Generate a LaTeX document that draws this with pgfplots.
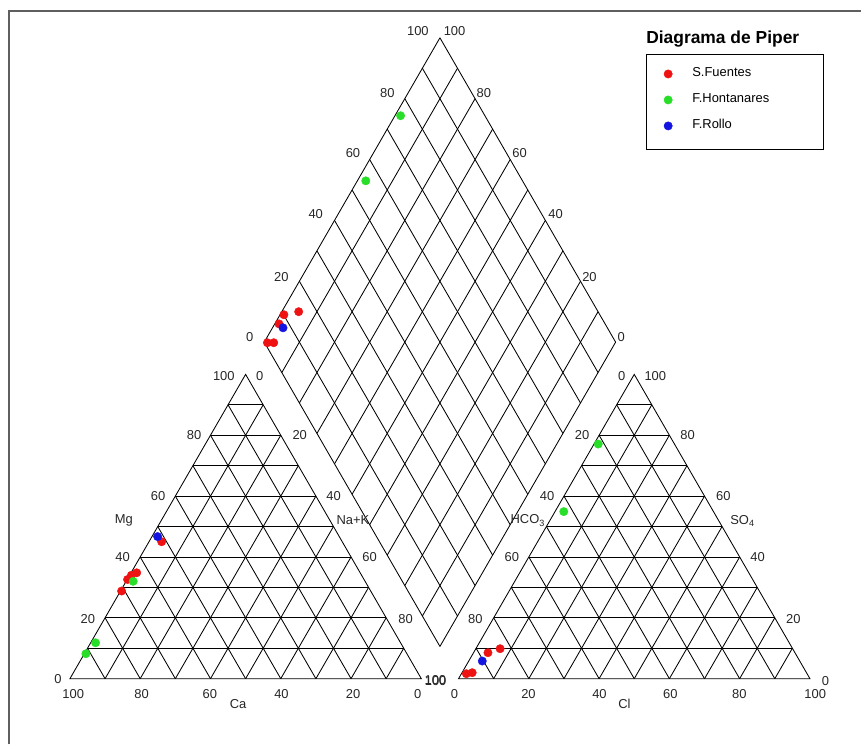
\documentclass[border=0pt]{standalone}
\usepackage{fontspec}
\setmainfont{Liberation Sans}
\usepackage{pgfplots}
\pgfplotsset{compat=1.18}
\usepackage{pgfplotstable}

\definecolor{ptred}{RGB}{238,18,18}
\definecolor{ptgreen}{RGB}{40,222,40}
\definecolor{ptblue}{RGB}{20,20,225}
\definecolor{framegray}{RGB}{95,95,95}

% Cation triangle: Mg and Na+K (% meq)
\pgfplotstableread{
Mg    NaK
45.0  3.6
34.8  1.6
34.0  0.5
32.6  0.1
28.8  0.3
}\fuentesCat
\pgfplotstableread{
Mg    NaK
32.0  2.0
11.8  1.4
8.2   0.45
}\hontanaresCat
\pgfplotstableread{
Mg    NaK
46.7  1.6
}\rolloCat

% Anion triangle: SO4 and Cl (% meq)
\pgfplotstableread{
SO4   Cl
9.85  6.9
8.53  4.1
1.97  2.9
1.64  1.4
}\fuentesAn
\pgfplotstableread{
SO4   Cl
77.1  1.2
54.9  2.5
}\hontanaresAn
\pgfplotstableread{
SO4   Cl
5.8   3.85
}\rolloAn

% Diamond: Na+K and Cl+SO4 (% meq)
\pgfplotstableread{
NaK   ClSO
4.8   14.8
1.1   10.1
1.2   7.2
1.0   0.8
2.8   2.6
}\fuentesDia
\pgfplotstableread{
NaK   ClSO
2.4   55.4
1.6   76.0
}\hontanaresDia
\pgfplotstableread{
NaK   ClSO
3.0   7.7
}\rolloDia

\begin{document}
\begin{tikzpicture}[
  lbl/.style={font=\fontsize{13}{15}\selectfont, inner sep=0pt, text=black!85},
  gridline/.style={black, line width=0.85bp},
]
\begin{axis}[
  x=3.517bp, y=3.517bp,
  xmin=-19.90, xmax=225.19, ymin=-18.68, ymax=193.15,
  hide axis, clip=false,
  ptmark/.style={only marks, mark=*, mark size=4.2bp},
  legend style={at={(axis cs:169.0,174.0)}, anchor=north west,
    draw=none, fill=none, inner sep=0pt, row sep=13bp,
    font=\fontsize{13}{15}\selectfont,
    nodes={inner sep=0pt, text height=9.5bp, text depth=3.5bp},
    /tikz/every odd column/.append style={column sep=20bp}},
  legend cell align=left,
]
% bounding box of the whole figure
\path (axis cs:-19.90,-18.68) rectangle (axis cs:225.19,193.15);
% outer frame
\draw[framegray, line width=1.6bp] (axis cs:-17.34,-18.68) -- (axis cs:-17.34,190.02) -- (axis cs:225.19,190.02);

% cation and anion triangles
\pgfplotsinvokeforeach{0,110.6}{
  \draw[gridline] (axis cs:#1,0) -- (axis cs:{#1+100},0) -- (axis cs:{#1+50},86.6025) -- cycle;
}
\pgfplotsinvokeforeach{1,...,9}{
  \draw[gridline] (axis cs:{5*#1},{8.66025*#1}) -- (axis cs:{100-5*#1},{8.66025*#1});
  \draw[gridline] (axis cs:{10*#1},0) -- (axis cs:{50+5*#1},{86.6025-8.66025*#1});
  \draw[gridline] (axis cs:{10*#1},0) -- (axis cs:{5*#1},{8.66025*#1});
  \draw[gridline] (axis cs:{110.6+5*#1},{8.66025*#1}) -- (axis cs:{210.6-5*#1},{8.66025*#1});
  \draw[gridline] (axis cs:{110.6+10*#1},0) -- (axis cs:{160.6+5*#1},{86.6025-8.66025*#1});
  \draw[gridline] (axis cs:{110.6+10*#1},0) -- (axis cs:{110.6+5*#1},{8.66025*#1});
}
% central diamond
\pgfplotsinvokeforeach{0,...,10}{
  \draw[gridline] (axis cs:{105.3-5*#1},{9.18+8.66025*#1}) -- (axis cs:{155.3-5*#1},{95.7825+8.66025*#1});
  \draw[gridline] (axis cs:{105.3+5*#1},{9.18+8.66025*#1}) -- (axis cs:{55.3+5*#1},{95.7825+8.66025*#1});
}

% cation triangle labels
\node[lbl] at (axis cs:0.94,-4.46) {100};
\node[lbl] at (axis cs:20.4,-4.46) {80};
\node[lbl] at (axis cs:39.8,-4.46) {60};
\node[lbl] at (axis cs:60.2,-4.46) {40};
\node[lbl] at (axis cs:80.6,-4.46) {20};
\node[lbl] at (axis cs:99.0,-4.46) {0};
\node[lbl] at (axis cs:47.85,-7.3) {Ca};
\node[lbl] at (axis cs:-3.41,-0.2) {0};
\node[lbl] at (axis cs:5.12,16.86) {20};
\node[lbl] at (axis cs:14.98,34.57) {40};
\node[lbl] at (axis cs:25.1,51.92) {60};
\node[lbl] at (axis cs:35.34,69.46) {80};
\node[lbl] at (axis cs:43.79,86.04) {100};
\node[lbl] at (axis cs:15.35,45.0) {Mg};
\node[lbl] at (axis cs:54.02,86.04) {0};
\node[lbl] at (axis cs:65.4,69.46) {20};
\node[lbl] at (axis cs:75.06,51.92) {40};
\node[lbl] at (axis cs:85.3,34.57) {60};
\node[lbl] at (axis cs:95.54,17.06) {80};
\node[lbl] at (axis cs:104.0,-0.48) {100};
\node[lbl] at (axis cs:80.55,45.1) {Na+K};

% anion triangle labels
\node[lbl] at (axis cs:109.47,-4.46) {0};
\node[lbl] at (axis cs:130.5,-4.46) {20};
\node[lbl] at (axis cs:150.7,-4.46) {40};
\node[lbl] at (axis cs:170.9,-4.46) {60};
\node[lbl] at (axis cs:190.5,-4.46) {80};
\node[lbl] at (axis cs:212.1,-4.46) {100};
\node[lbl] at (axis cs:157.8,-7.3) {Cl};
\node[lbl] at (axis cs:104.07,-0.68) {100};
\node[lbl] at (axis cs:115.4,16.86) {80};
\node[lbl] at (axis cs:125.76,34.57) {60};
\node[lbl] at (axis cs:135.8,51.92) {40};
\node[lbl] at (axis cs:145.78,69.46) {20};
\node[lbl] at (axis cs:157.0,86.04) {0};
\node[lbl] at (axis cs:130.3,45.0) {HCO\textsubscript{3}};
\node[lbl] at (axis cs:166.6,86.04) {100};
\node[lbl] at (axis cs:175.8,69.46) {80};
\node[lbl] at (axis cs:185.95,51.92) {60};
\node[lbl] at (axis cs:195.7,34.57) {40};
\node[lbl] at (axis cs:205.9,16.86) {20};
\node[lbl] at (axis cs:215.0,-0.68) {0};
\node[lbl] at (axis cs:191.4,45.0) {SO\textsubscript{4}};

% diamond labels
\node[lbl] at (axis cs:51.18,97.24) {0};
\node[lbl] at (axis cs:60.19,114.3) {20};
\node[lbl] at (axis cs:69.95,132.2) {40};
\node[lbl] at (axis cs:80.55,149.56) {60};
\node[lbl] at (axis cs:90.33,166.79) {80};
\node[lbl] at (axis cs:99.03,184.42) {100};
\node[lbl] at (axis cs:109.47,184.42) {100};
\node[lbl] at (axis cs:117.8,166.79) {80};
\node[lbl] at (axis cs:127.95,149.56) {60};
\node[lbl] at (axis cs:138.2,132.2) {40};
\node[lbl] at (axis cs:147.85,114.3) {20};
\node[lbl] at (axis cs:156.87,97.24) {0};

% legend title and box
\node[anchor=west, inner sep=0pt, font=\bfseries\fontsize{17.5}{20}\selectfont] at (axis cs:163.97,181.97) {Diagrama de Piper};
\draw[black, line width=1bp] (axis cs:164.14,177.71) rectangle (axis cs:214.39,150.5);

% samples: cation triangle
\addplot[ptmark, color=ptred, mark options={fill=ptred}] table[x expr={\thisrow{NaK}+0.5*\thisrow{Mg}}, y expr={0.866025*\thisrow{Mg}}] {\fuentesCat};
\addlegendentry{S.Fuentes}
\addplot[ptmark, color=ptgreen, mark options={fill=ptgreen}] table[x expr={\thisrow{NaK}+0.5*\thisrow{Mg}}, y expr={0.866025*\thisrow{Mg}}] {\hontanaresCat};
\addlegendentry{F.Hontanares}
\addplot[ptmark, color=ptblue, mark options={fill=ptblue}] table[x expr={\thisrow{NaK}+0.5*\thisrow{Mg}}, y expr={0.866025*\thisrow{Mg}}] {\rolloCat};
\addlegendentry{F.Rollo}

% samples: anion triangle
\addplot[ptmark, forget plot, color=ptred, mark options={fill=ptred}] table[x expr={110.6+\thisrow{Cl}+0.5*\thisrow{SO4}}, y expr={0.866025*\thisrow{SO4}}] {\fuentesAn};
\addplot[ptmark, forget plot, color=ptgreen, mark options={fill=ptgreen}] table[x expr={110.6+\thisrow{Cl}+0.5*\thisrow{SO4}}, y expr={0.866025*\thisrow{SO4}}] {\hontanaresAn};
\addplot[ptmark, forget plot, color=ptblue, mark options={fill=ptblue}] table[x expr={110.6+\thisrow{Cl}+0.5*\thisrow{SO4}}, y expr={0.866025*\thisrow{SO4}}] {\rolloAn};

% samples: diamond
\addplot[ptmark, forget plot, color=ptred, mark options={fill=ptred}] table[x expr={0.5*(110.6+\thisrow{ClSO}+\thisrow{NaK})}, y expr={0.866025*(110.6+\thisrow{ClSO}-\thisrow{NaK})}] {\fuentesDia};
\addplot[ptmark, forget plot, color=ptgreen, mark options={fill=ptgreen}] table[x expr={0.5*(110.6+\thisrow{ClSO}+\thisrow{NaK})}, y expr={0.866025*(110.6+\thisrow{ClSO}-\thisrow{NaK})}] {\hontanaresDia};
\addplot[ptmark, forget plot, color=ptblue, mark options={fill=ptblue}] table[x expr={0.5*(110.6+\thisrow{ClSO}+\thisrow{NaK})}, y expr={0.866025*(110.6+\thisrow{ClSO}-\thisrow{NaK})}] {\rolloDia};
\end{axis}
\end{tikzpicture}
\end{document}
